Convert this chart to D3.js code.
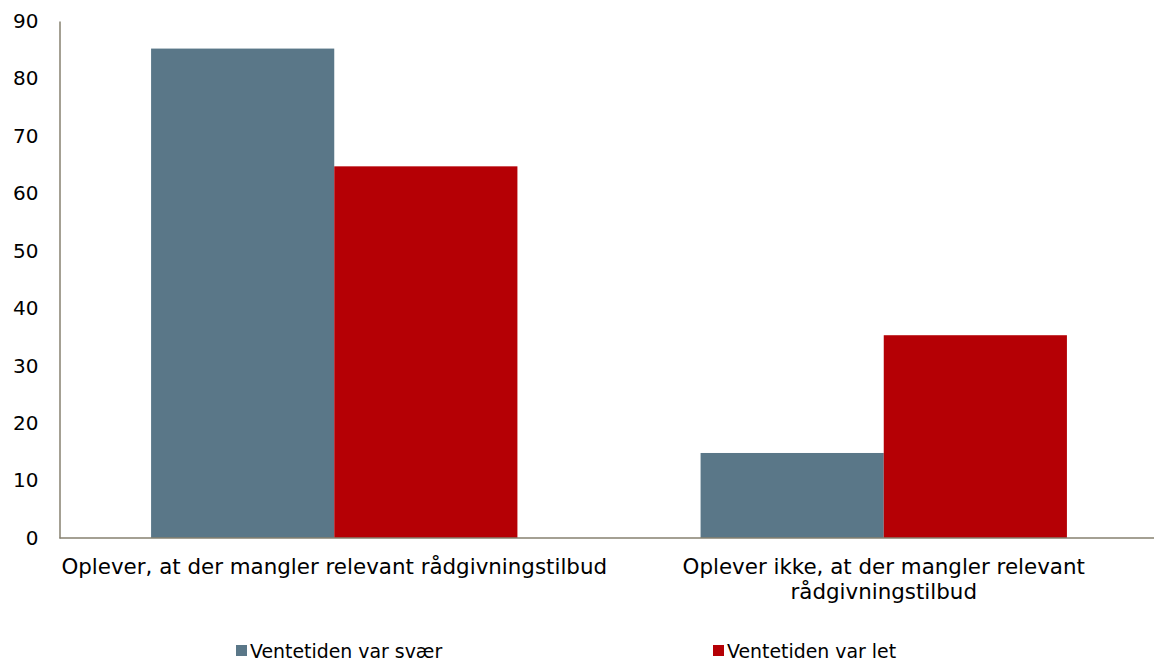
<!DOCTYPE html>
<html><head><meta charset="utf-8">
<script src="https://cdn.jsdelivr.net/npm/d3@7"></script>
<style>body{margin:0;background:#fff;}svg{display:block;font-family:"DejaVu Sans",Verdana,sans-serif;}</style>
</head><body><svg id="c" width="1154" height="662"></svg>
<script>
const categories = [["Oplever, at der mangler relevant rådgivningstilbud"], ["Oplever ikke, at der mangler relevant", "rådgivningstilbud"]];
const seriesNames = ["Ventetiden var svær", "Ventetiden var let"];
const svaer = [85.2, 14.8];
const let_ = [64.7, 35.3];
const yTicks = [0, 10, 20, 30, 40, 50, 60, 70, 80, 90];
const colors = ["#5A7788", "#B50005"];

(function () {
const svg = d3.select("#c");
const pLeft = 59.5, pRight = 1158.5, pTop = 21, pBottom = 538;
const x0 = d3.scaleBand().domain(d3.range(categories.length)).range([pLeft, pRight]).padding(0);
const y = d3.scaleLinear().domain([0, 90]).range([pBottom, pTop]);
const groupW = x0.bandwidth() * 2 / 3;
const x1 = d3.scaleBand().domain(d3.range(seriesNames.length)).range([0, groupW]).padding(0);
const series = [svaer, let_];

// bars
series.forEach((vals, si) => {
  svg.append("g").selectAll("rect").data(vals).join("rect")
    .attr("x", (d, i) => x0(i) + (x0.bandwidth() - groupW) / 2 + x1(si))
    .attr("y", d => y(d))
    .attr("width", x1.bandwidth())
    .attr("height", d => y(0) - y(d))
    .attr("fill", colors[si]);
});

// y axis
const yAxis = d3.axisLeft(y).tickValues(yTicks).tickSize(0).tickPadding(21);
const gy = svg.append("g").attr("transform", `translate(${pLeft},0)`).call(yAxis);
gy.select(".domain").attr("stroke", "#86806F").attr("stroke-width", 1.5);
gy.selectAll("text").attr("font-size", 20).attr("fill", "#000").attr("font-family", "DejaVu Sans, Verdana, sans-serif");

// x axis line
svg.append("line").attr("x1", pLeft).attr("x2", 1154).attr("y1", y(0)).attr("y2", y(0))
  .attr("stroke", "#86806F").attr("stroke-width", 1.5);

// category labels
categories.forEach((lines, i) => {
  const t = svg.append("text").attr("text-anchor", "middle").attr("font-size", 21.4).attr("fill", "#000");
  lines.forEach((ln, k) => {
    t.append("tspan").attr("x", x0(i) + x0.bandwidth() / 2).attr("y", 574 + k * 25).text(ln);
  });
});

// legend
const legX = [236, 713];
seriesNames.forEach((n, i) => {
  svg.append("rect").attr("x", legX[i]).attr("y", 645).attr("width", 11).attr("height", 11).attr("fill", colors[i]);
  svg.append("text").attr("x", legX[i] + 14).attr("y", 658).attr("font-size", 18.9).attr("fill", "#000").text(n);
});
})();
</script></body></html>
